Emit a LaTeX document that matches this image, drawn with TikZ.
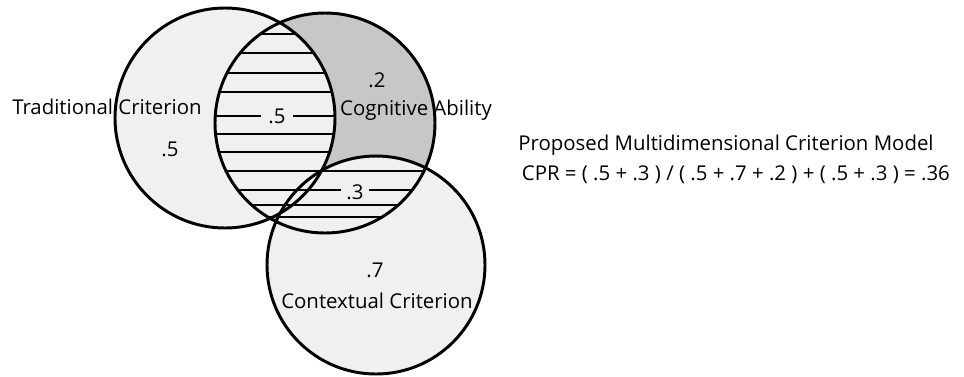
\documentclass[tikz,border=0pt]{standalone}
\usepackage{fontspec}
\setmainfont{Open Sans}
\usetikzlibrary{positioning}

\definecolor{paleFill}{gray}{0.94}
\definecolor{darkFill}{gray}{0.78}

\begin{document}
\begin{tikzpicture}[x=0.025cm, y=-0.025cm, font=\fontsize{14.5}{16}\selectfont,
    rim/.style={line width=2.1pt},
    hatch/.style={line width=1.6pt},
    lbl/.style={inner sep=1pt}]

\useasboundingbox (0,0) rectangle (964,376);
\fill[white] (0,0) rectangle (964,376);

\pgfmathsetmacro{\rad}{110}

% --- centres of the three criteria ---
\coordinate (trad) at (225,118);
\coordinate (cogn) at (325,123);
\coordinate (ctxt) at (376,265);

% --- fills ---
\fill[paleFill] (trad) circle [radius=\rad];
\fill[paleFill] (ctxt) circle [radius=109];
\fill[darkFill] (cogn) circle [radius=\rad];

% --- hatched overlaps (inside cognitive ability) ---
\begin{scope}
  \clip (cogn) circle [radius=\rad];
  \fill[paleFill] (trad) circle [radius=\rad];
  \fill[paleFill] (ctxt) circle [radius=109];
  \begin{scope}
    \clip (trad) circle [radius=\rad] (ctxt) circle [radius=109];
    \foreach \y in {34,53,73,92,116,134,152,171,190,205,217}
      \draw[hatch] (100,\y) -- (500,\y);
  \end{scope}
\end{scope}

% --- outlines ---
\draw[rim] (trad) circle [radius=\rad];
\draw[rim] (cogn) circle [radius=\rad];
\draw[rim] (ctxt) circle [radius=109];

% --- values ---
\node[lbl, fill=paleFill, inner xsep=5pt] (vShared) at (277,116) {.5};
\node[lbl, fill=paleFill, inner xsep=4pt] (vCtxShared) at (355,192) {.3};
\node[lbl] (vTrad) at (170,149) {.5};
\node[lbl] (vCogn) at (377,80) {.2};
\node[lbl] (vCtxt) at (375,270) {.7};

% --- names ---
\node[lbl] (nTrad) at (107,107) {Traditional Criterion};
\node[lbl] (nCogn) at (416,110) {Cognitive Ability};
\node[lbl] (nCtxt) at (377,301) {Contextual Criterion};

% --- model ---
\node[lbl] (title) at (726,145) {Proposed Multidimensional Criterion Model};
\node[lbl, below=5pt of title, xshift=7pt] (formula) {CPR = ( .5 + .3 ) / ( .5 + .7 + .2 ) + ( .5 + .3 ) = .36};

\end{tikzpicture}
\end{document}
